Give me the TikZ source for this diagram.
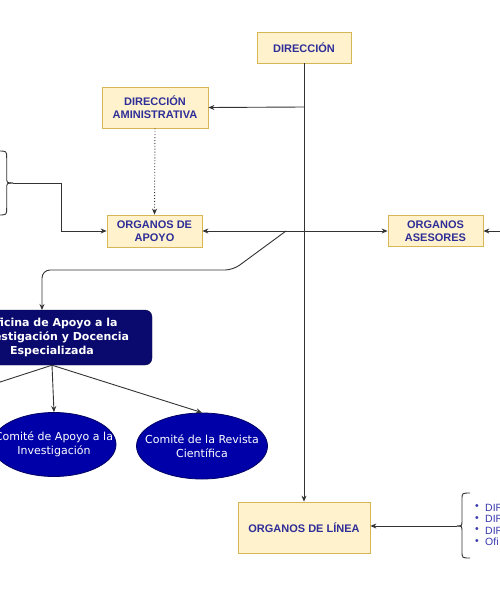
\documentclass[tikz,border=0pt]{standalone}
\usepackage{fontspec}
\setmainfont{Liberation Sans}
\newfontfamily\dvs{DejaVu Sans}
\usetikzlibrary{arrows.meta,shapes.geometric}
\definecolor{boxfill}{HTML}{FFF2CC}
\definecolor{boxline}{HTML}{D6B656}
\definecolor{boxtext}{HTML}{2E2E99}
\definecolor{navybox}{HTML}{0A0A6E}
\definecolor{ellblue}{HTML}{0000A8}
\definecolor{connc}{HTML}{333333}
\definecolor{listtext}{HTML}{3838B0}
\tikzset{
 ybox/.style={draw=boxline, fill=boxfill, line width=0.8pt, text=boxtext, font=\fontsize{11}{13}\selectfont\bfseries, align=center, inner sep=0pt},
 navy/.style={draw=navybox!70!black, fill=navybox, rounded corners=7pt, text=white, font=\dvs\fontsize{11}{14}\selectfont\bfseries, align=center, inner sep=0pt},
 comite/.style={ellipse, draw=ellblue!60!black, line width=0.8pt, fill=ellblue, inner sep=0pt},
 comitetext/.style={text=white, font=\dvs\fontsize{11}{14}\selectfont, align=center, inner sep=0pt},
 connl/.style={draw=connc, line width=0.9pt},
 arr/.style={connl, -{Stealth[length=6pt,width=5pt]}},
 listitem/.style={text=listtext, font=\fontsize{10.5}{11}\selectfont, anchor=west, inner sep=0pt},
}
\begin{document}
\begin{tikzpicture}[x=1pt,y=-1pt]
\useasboundingbox (0,0) rectangle (500,600);
\fill[white] (0,0) rectangle (500,600);
\begin{scope}
\clip (0,0) rectangle (500,600);
% boxes
\node[ybox, minimum width=94, minimum height=31] (dir) at (304,47.5) {DIRECCIÓN};
\node[ybox, minimum width=106, minimum height=41] (dadmin) at (155,107.5) {DIRECCIÓN\\AMINISTRATIVA};
\node[ybox, minimum width=95, minimum height=32] (apoyo) at (154.5,231) {ORGANOS DE\\APOYO};
\node[ybox, minimum width=95, minimum height=31] (ases) at (435.5,231) {ORGANOS\\ASESORES};
\node[ybox, minimum width=132, minimum height=51] (linea) at (304,527.5) {ORGANOS DE LÍNEA};
\node[navy, minimum width=200, minimum height=55] (ofi) at (52,337.5) {Oficina de Apoyo a la\\Investigación y Docencia\\Especializada};
\node[comite, minimum width=124, minimum height=64] (c1) at (54,444.5) {};
\node[comitetext] (c1t) at (c1) {Comité de Apoyo a la\\Investigación};
\node[comite, minimum width=131, minimum height=66] (c2) at (202,446) {};
\node[comitetext] (c2t) at (c2) {Comité de la Revista\\Científica};
% coordinates
\coordinate (j1) at (304,107);
\coordinate (j2) at (304,231);
\coordinate (d0) at (286,231);
\coordinate (ofin) at (42,310);
\coordinate (lbtip) at (13,183);
\coordinate (rbtip) at (457,526);
\coordinate (rin) at (510,231);
\coordinate (lout) at (-20,388.5);
% connectors
\draw[arr] (dir.south) -- (linea.north);
\draw[arr] (j1) -- (dadmin.east);
\draw[arr] (j2) -- (apoyo.east);
\draw[arr] (j2) -- (ases.west);
\draw[arr] (rin) -- (ases.east);
\draw[arr, dotted] (dadmin.south) -- (apoyo.north);
\draw[arr] (lbtip) -- (61,183) -- (61,231) -- (apoyo.west);
\draw[arr, rounded corners=8pt] (d0) -- (233,270) -- (42,270) -- (ofin);
\draw[arr] (ofi.south) -- (c1.north);
\draw[arr] (ofi.south) -- (c2.north);
\draw[connl] (ofi.south) -- (lout);
\draw[arr] (rbtip) -- (rbtip -| linea.east);
% braces
\draw[connl] (-2,151) .. controls (6.7,151) .. (6.7,158) -- (6.7,177) .. controls (6.7,183) .. (lbtip);
\draw[connl] (-2,215) .. controls (6.7,215) .. (6.7,208) -- (6.7,189) .. controls (6.7,183) .. (lbtip);
\draw[connl] (470,493) .. controls (462,493) .. (462,500) -- (462,520) .. controls (462,526) .. (rbtip);
\draw[connl] (470,558) .. controls (462,558) .. (462,551) -- (462,532) .. controls (462,526) .. (rbtip);
% list
\foreach \yy/\tx/\nm in {507.5/DIR/l1, 519/DIR/l2, 530.5/DIR/l3, 542/Ofi/l4}{
  \node[listitem] (\nm b) at (475,\yy) {\textbullet};
  \node[listitem] (\nm) at (485,\yy) {\tx};
}
\end{scope}
\end{tikzpicture}
\end{document}
